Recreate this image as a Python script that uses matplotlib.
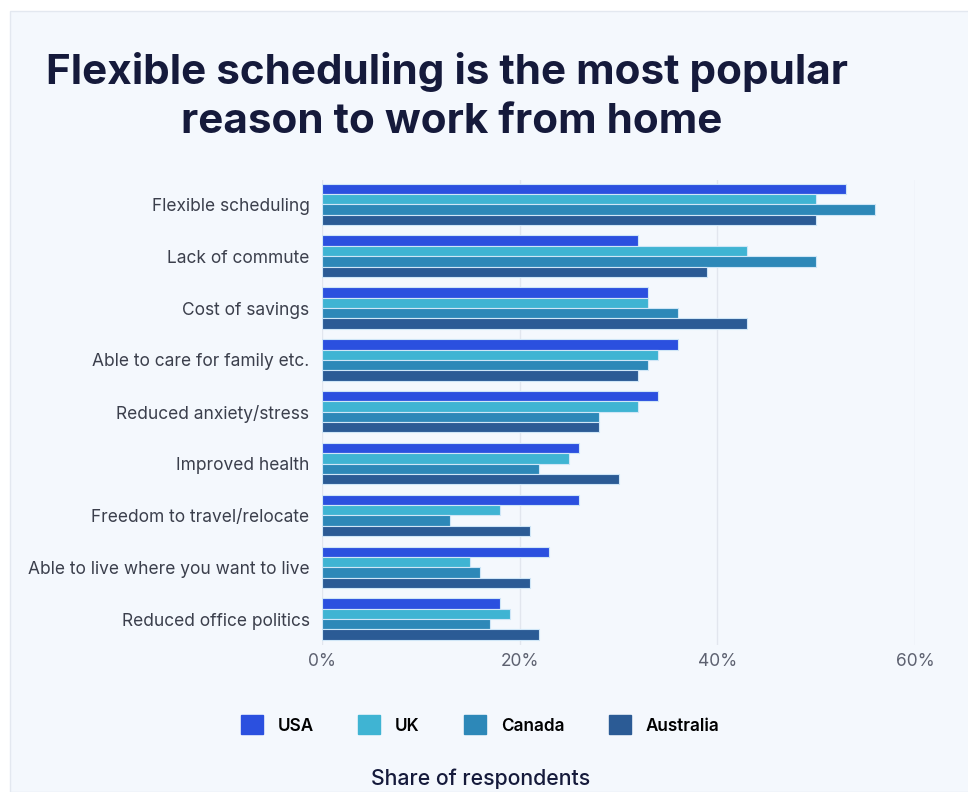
import numpy as np
import matplotlib
matplotlib.use("Agg")
import matplotlib.pyplot as plt
from matplotlib.patches import Rectangle, Patch

# data (share of respondents, %)
reasons = ["Flexible scheduling", "Lack of commute", "Cost of savings",
           "Able to care for family etc.", "Reduced anxiety/stress",
           "Improved health", "Freedom to travel/relocate",
           "Able to live where you want to live", "Reduced office politics"]
countries = ["USA", "UK", "Canada", "Australia"]
usa = [53, 32, 33, 36, 34, 26, 26, 23, 18]
uk = [50, 43, 33, 34, 32, 25, 18, 15, 19]
canada = [56, 50, 36, 33, 28, 22, 13, 16, 17]
australia = [50, 39, 43, 32, 28, 30, 21, 21, 22]
xticks = [0, 20, 40, 60]
xtick_labels = ["0%", "20%", "40%", "60%"]

colors = ["#2b50df", "#3fb4d3", "#2d88b8", "#2b5b95"]
bg = "#f4f8fd"

plt.rcParams['font.family'] = ['Inter', 'DejaVu Sans']

fig = plt.figure(figsize=(9.68, 7.92), dpi=100)
fig.patch.set_facecolor("white")
# card background
fig.patches.append(Rectangle((10 / 968, 0), 1, 1 - 11 / 792, transform=fig.transFigure,
                             facecolor=bg, edgecolor="#e3e8f0", linewidth=1, zorder=-5))

ax = fig.add_axes([322 / 968, 1 - 645 / 792, (915 - 322) / 968, (645 - 180) / 792])
ax.set_zorder(2)
ax.set_facecolor(bg)

y = np.arange(len(reasons))
pitch = 0.2
series = [usa, uk, canada, australia]
for k, vals in enumerate(series):
    ax.barh(y - 1.5 * pitch + k * pitch, vals, height=pitch, color=colors[k],
            edgecolor="#cfe6f7", linewidth=0.8, label=countries[k], zorder=3)

ax.set_xlim(0, 60)
ax.set_ylim(8.5, -0.47)
ax.set_yticks(y)
ax.set_yticklabels(reasons, fontsize=12.5, color="#3b3f4c")
ax.set_xticks(xticks)
ax.set_xticklabels(xtick_labels, fontsize=12.5, color="#5d6170")
ax.tick_params(axis="both", length=0)
ax.tick_params(axis="y", pad=9)
ax.tick_params(axis="x", pad=6)
ax.grid(axis="x", color="#e2e6ee", linewidth=1, zorder=0)
for s in ax.spines.values():
    s.set_visible(False)

fig.text(447 / 968, 1 - 72 / 792, "Flexible scheduling is the most popular",
         ha="center", va="center", fontsize=30.4, fontweight="bold", color="#151a3b")
fig.text(452 / 968, 1 - 122 / 792, "reason to work from home",
         ha="center", va="center", fontsize=30.4, fontweight="bold", color="#151a3b")

handles = [Patch(facecolor=c, edgecolor=c) for c in colors]
fig.legend(handles, countries, loc="center", bbox_to_anchor=(480 / 968, 1 - 725 / 792),
           ncol=4, frameon=False, handlelength=1.3, handleheight=1.3,
           columnspacing=2.6, handletextpad=0.85,
           prop={"size": 12.3, "weight": "semibold"})

fig.text(481 / 968, 3 / 792, "Share of respondents", ha="center", va="bottom",
         fontsize=15.3, fontweight="medium", color="#151a3b")

fig.savefig("out.png", dpi=100, facecolor=fig.get_facecolor())
